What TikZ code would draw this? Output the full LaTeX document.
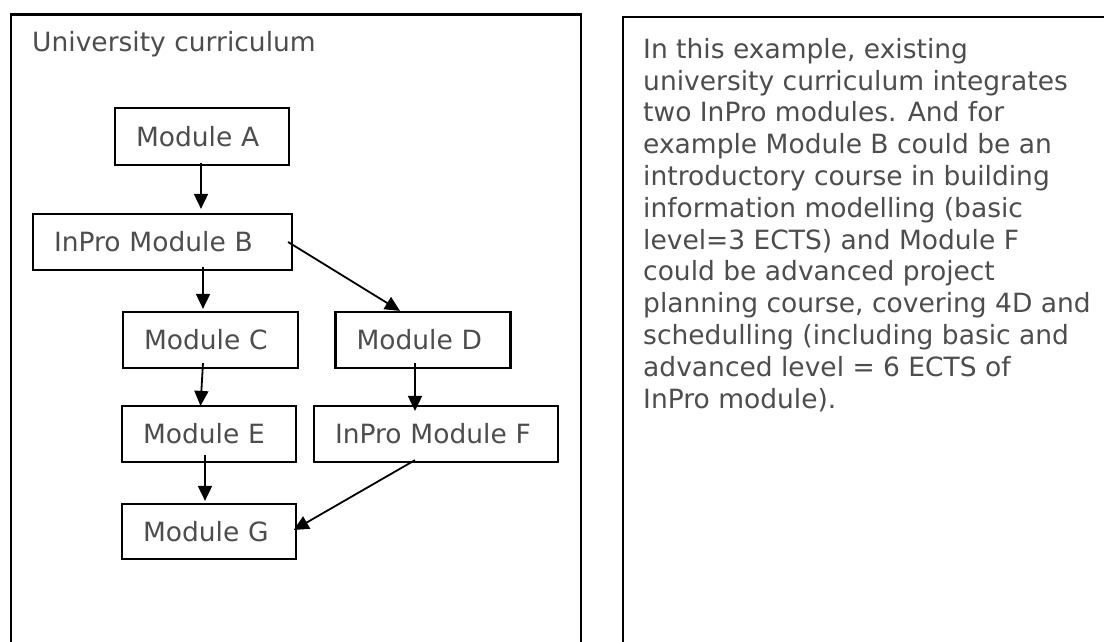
\documentclass[tikz,border=0pt]{standalone}
\usepackage{fontspec}
\setmainfont{DejaVu Sans}
\usetikzlibrary{arrows.meta}
\definecolor{txt}{HTML}{4D4D4D}
\tikzset{
  modbox/.style={draw=black, line width=2.2pt, inner ysep=0pt, inner xsep=21pt,
    minimum height=56pt, align=left, text=txt, font=\fontsize{26.5}{31.8}\selectfont},
  frame/.style={draw=black, line width=2.2pt},
  conn/.style={draw=black, line width=1.8pt, -{Triangle[length=15pt,width=14pt]}},
  plain/.style={text=txt, inner sep=0pt, font=\fontsize{26.5}{31.8}\selectfont}
}
\begin{document}
\begin{tikzpicture}[x=1pt,y=-1pt]
\useasboundingbox (0,0) rectangle (1104,642);
\clip (0,0) rectangle (1104,642);
\fill[white] (0,0) rectangle (1104,642);
% frames
\draw[frame] (11,14.5) rectangle (581,700);
\draw[frame] (623,17) rectangle (1200,700);
% title
\node[plain, anchor=base west] (title) at (32,52) {University curriculum};
% modules
\node[modbox, text width=132pt, minimum height=57pt] (A) at (202,136.5) {Module A};
\node[modbox, text width=217pt] (B) at (162.5,242) {InPro Module B};
\node[modbox, text width=133pt] (C) at (210.5,340) {Module C};
\node[modbox, text width=133pt] (D) at (423,340) {Module D};
\node[modbox, text width=132pt] (E) at (209,434) {Module E};
\node[modbox, text width=202pt] (F) at (436,434) {InPro Module F};
\node[modbox, text width=132pt, minimum height=55pt] (G) at (209,531.5) {Module G};
% connectors
\draw[conn] ([xshift=-1pt,yshift=3pt]A.south) -- ([xshift=38.5pt,yshift=4pt]B.north);
\draw[conn] ([xshift=40.5pt,yshift=4pt]B.south) -- ([xshift=-7.5pt,yshift=2pt]C.north);
\draw[conn] ([xshift=-5pt]B.east) -- ([xshift=-23pt]D.north);
\draw[conn] ([xshift=-7.5pt,yshift=6pt]C.south) -- ([xshift=-8.5pt,yshift=-1pt]E.north);
\draw[conn] ([xshift=-8pt,yshift=6pt]D.south) -- ([xshift=-21pt,yshift=-6pt]F.north);
\draw[conn] ([xshift=-4pt,yshift=8pt]E.south) -- ([xshift=-4pt,yshift=2pt]G.north);
\draw[conn] ([xshift=-21pt,yshift=3pt]F.south) -- ([xshift=-3.4pt,yshift=1.5pt]G.east);
% explanation text
\node[plain, anchor=north west, align=left] (note) at (643,37.9) {In this example, existing\\
university curriculum integrates\\
two InPro modules. And for\\
example Module B could be an\\
introductory course in building\\
information modelling (basic\\
level=3 ECTS) and Module F\\
could be advanced project\\
planning course, covering 4D and\\
schedulling (including basic and\\
advanced level = 6 ECTS of\\
InPro module).};
\end{tikzpicture}
\end{document}
